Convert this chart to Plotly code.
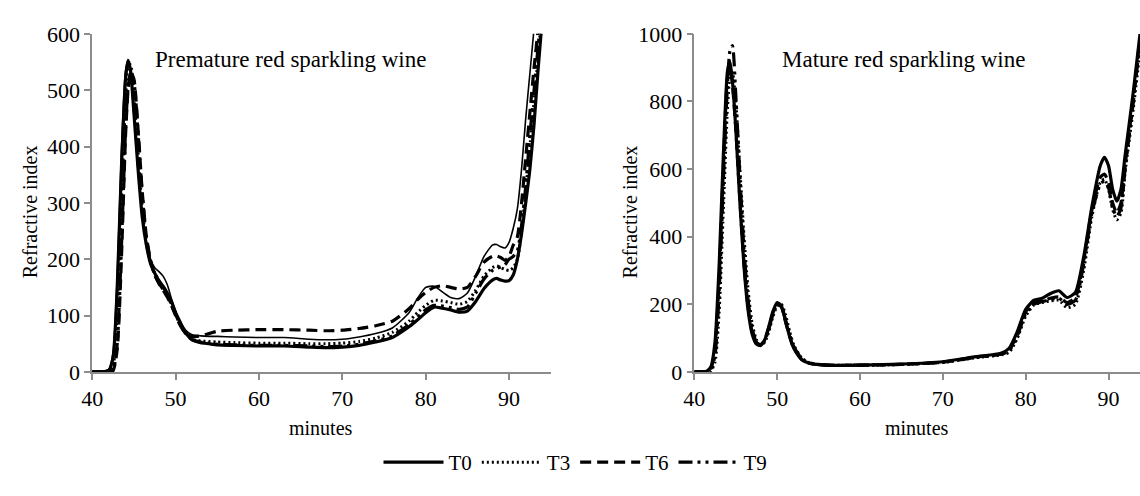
import plotly.graph_objects as go

# ---------------- data ----------------
series_names = ["T0", "T3", "T6", "T9"]

# Premature red sparkling wine (left panel)
t_left = [40, 41, 42, 42.5, 43, 43.5, 44, 44.3, 44.6, 45, 45.5, 46, 46.5, 47, 47.5, 48, 48.5,
          49, 49.5, 50, 50.5, 51, 51.5, 52, 53, 54, 55, 57, 60, 63, 66, 68, 70, 72, 74, 76,
          78, 79, 80, 81, 82, 83, 84, 85, 86, 87, 88, 88.5, 89, 89.5, 90, 90.5, 91, 91.5,
          92, 92.5, 93, 93.5, 94]
pre_T0 = [0, 0, 3, 25, 150, 360, 520, 553, 535, 460, 360, 275, 225, 192, 175, 162, 152,
          140, 125, 105, 90, 75, 64, 57, 52, 50, 48, 47, 46, 46, 44, 43, 44, 47, 53, 61,
          80, 92, 105, 115, 113, 110, 106, 108, 125, 148, 163, 166, 163, 161, 162, 172, 200, 245,
          300, 360, 440, 540, 630]
pre_T3 = [0, 0, 0, 10, 100, 300, 480, 540, 545, 490, 390, 290, 228, 195, 176, 162, 150,
          138, 122, 104, 88, 73, 64, 58, 55, 54, 53, 52, 51, 51, 50, 50, 51, 54, 60, 70,
          90, 105, 118, 127, 126, 123, 120, 125, 145, 170, 185, 188, 185, 182, 180, 185, 200, 250,
          320, 400, 480, 560, 650]
pre_T6 = [0, 0, 0, 2, 40, 200, 420, 500, 532, 520, 430, 320, 240, 198, 172, 157, 145,
          133, 118, 100, 84, 72, 66, 63, 64, 68, 72, 74, 75, 75, 74, 73, 74, 77, 82, 90,
          112, 128, 141, 150, 153, 150, 147, 150, 170, 195, 205, 206, 203, 198, 205, 225, 240, 300,
          380, 460, 540, 610, 690]
pre_T9 = [0, 0, 0, 3, 50, 220, 430, 505, 530, 515, 425, 315, 238, 196, 172, 158, 146,
          134, 120, 102, 86, 72, 63, 57, 53, 51, 49, 48, 47, 47, 46, 45, 46, 49, 55, 64,
          84, 97, 110, 118, 117, 114, 111, 115, 140, 165, 180, 184, 186, 190, 200, 205, 215, 260,
          330, 420, 500, 580, 660]
# thin solid trace visible in the reference (no legend entry)
pre_thin = [0, 0, 5, 35, 170, 390, 535, 553, 530, 455, 355, 280, 230, 200, 185, 178, 170,
            155, 130, 108, 90, 78, 70, 66, 64, 63, 63, 62, 61, 61, 58, 57, 58, 62, 68, 78,
            105, 130, 150, 152, 142, 132, 130, 140, 170, 205, 225, 226, 222, 220, 230, 255, 290, 360,
            450, 530, 610, 700, 800]

# Mature red sparkling wine (right panel)
t_right = [40, 41, 41.5, 42, 42.5, 43, 43.5, 44, 44.3, 44.6, 45, 45.5, 46, 46.5, 47, 47.5,
           48, 48.5, 49, 49.5, 50, 50.5, 51, 51.5, 52, 53, 54, 56, 60, 65, 70, 74, 77, 78,
           79, 80, 81, 82, 83, 84, 85, 86, 87, 88, 89, 89.5, 90, 90.5, 91, 91.5, 92, 93, 93.8]
mat_T0 = [0, 0, 2, 15, 90, 320, 640, 890, 918, 860, 720, 500, 310, 180, 110, 82,
          78, 95, 135, 180, 205, 195, 150, 105, 70, 35, 25, 20, 20, 23, 30, 45, 55, 70,
          120, 185, 212, 218, 232, 240, 220, 235, 340, 490, 610, 635, 610, 540, 505, 540, 640, 830, 1000]
mat_T3 = [0, 0, 0, 3, 30, 180, 480, 780, 870, 885, 800, 600, 400, 240, 140, 95,
          80, 88, 120, 165, 195, 200, 170, 120, 80, 40, 26, 20, 19, 22, 28, 42, 50, 58,
          100, 165, 198, 205, 210, 212, 190, 200, 300, 460, 560, 570, 540, 480, 450, 470, 590, 780, 950]
mat_T6 = [0, 0, 1, 10, 70, 280, 600, 870, 900, 850, 720, 510, 320, 190, 115, 85,
          80, 95, 132, 175, 200, 192, 150, 105, 70, 36, 25, 20, 20, 22, 29, 44, 53, 65,
          112, 178, 205, 210, 218, 222, 205, 220, 330, 480, 575, 585, 560, 500, 470, 500, 610, 810, 990]
mat_T9 = [0, 0, 0, 5, 50, 240, 560, 850, 950, 965, 820, 580, 360, 210, 125, 88,
          80, 92, 128, 172, 200, 195, 155, 110, 75, 38, 26, 20, 20, 22, 29, 43, 52, 62,
          108, 172, 200, 208, 214, 218, 200, 212, 320, 470, 555, 565, 545, 485, 460, 485, 600, 800, 980]

left_ticks = [0, 100, 200, 300, 400, 500, 600]
right_ticks = [0, 200, 400, 600, 800, 1000]
x_ticks = [40, 50, 60, 70, 80, 90]

# ---------------- styling ----------------
FONT = "Liberation Serif, Times New Roman, serif"
styles = {
    "T0": dict(color="black", width=3.2, dash="solid"),
    "T3": dict(color="black", width=3, dash="2px,3px"),
    "T6": dict(color="black", width=3.2, dash="11px,6px"),
    "T9": dict(color="black", width=3.2, dash="14px,5px,3px,5px,3px,5px"),
}

fig = go.Figure()

left_data = {"T0": pre_T0, "T3": pre_T3, "T6": pre_T6, "T9": pre_T9}
right_data = {"T0": mat_T0, "T3": mat_T3, "T6": mat_T6, "T9": mat_T9}

fig.add_trace(go.Scatter(x=t_left, y=pre_thin, mode="lines", showlegend=False,
                         line=dict(color="black", width=1.6, shape="spline", smoothing=0.6),
                         xaxis="x", yaxis="y", hoverinfo="skip"))
for name in series_names:
    fig.add_trace(go.Scatter(x=t_left, y=left_data[name], mode="lines", name=name,
                             line=dict(shape="spline", smoothing=0.6, **styles[name]),
                             xaxis="x", yaxis="y", legendgroup=name))
for name in series_names:
    fig.add_trace(go.Scatter(x=t_right, y=right_data[name], mode="lines", name=name,
                             showlegend=False,
                             line=dict(shape="spline", smoothing=0.6, **styles[name]),
                             xaxis="x2", yaxis="y2", legendgroup=name))

ydom = [1 - 379 / 496, 1 - 23 / 496]
axis_common = dict(showgrid=False, zeroline=False, showline=True, linecolor="#8c8c8c",
                   linewidth=1.5, ticks="outside", tickcolor="#8c8c8c", ticklen=6,
                   tickwidth=1.5, tickfont=dict(family=FONT, size=22, color="black"))

fig.update_layout(
    width=1140, height=496,
    margin=dict(l=0, r=0, t=0, b=0),
    paper_bgcolor="white", plot_bgcolor="white",
    font=dict(family=FONT, color="black"),
    xaxis=dict(domain=[82 / 1140, 545 / 1140], range=[40, 95], tickvals=x_ticks,
               anchor="y", **axis_common),
    yaxis=dict(domain=ydom, range=[0, 600], tickvals=left_ticks, anchor="x", **axis_common),
    xaxis2=dict(domain=[690 / 1140, 1.0], range=[40, 93.8], tickvals=x_ticks,
                anchor="y2", **axis_common),
    yaxis2=dict(domain=ydom, range=[0, 1000], tickvals=right_ticks, anchor="x2", **axis_common),
    legend=dict(orientation="h", x=0.5, xanchor="center", y=0.0, yanchor="bottom",
                font=dict(family=FONT, size=21, color="black"), itemwidth=60,
                bgcolor="rgba(0,0,0,0)"),
    showlegend=True,
)

ann_font = dict(family=FONT, size=23, color="black")
axt_font = dict(family=FONT, size=20, color="black")
fig.add_annotation(text="Premature red sparkling wine", xref="paper", yref="paper",
                   x=282 / 1140, y=1 - 50 / 496, showarrow=False, font=ann_font,
                   xanchor="center", yanchor="middle")
fig.add_annotation(text="Mature red sparkling wine", xref="paper", yref="paper",
                   x=901 / 1140, y=1 - 50 / 496, showarrow=False, font=ann_font,
                   xanchor="center", yanchor="middle")
fig.add_annotation(text="Refractive index", xref="paper", yref="paper",
                   x=20 / 1140, y=1 - 210 / 496, showarrow=False, font=axt_font,
                   textangle=-90, xanchor="center", yanchor="middle")
fig.add_annotation(text="Refractive index", xref="paper", yref="paper",
                   x=625 / 1140, y=1 - 210 / 496, showarrow=False, font=axt_font,
                   textangle=-90, xanchor="center", yanchor="middle")
fig.add_annotation(text="minutes", xref="paper", yref="paper",
                   x=313 / 1140, y=1 - 438 / 496, showarrow=False, font=axt_font,
                   xanchor="center", yanchor="middle")
fig.add_annotation(text="minutes", xref="paper", yref="paper",
                   x=915 / 1140, y=1 - 438 / 496, showarrow=False, font=axt_font,
                   xanchor="center", yanchor="middle")

fig.write_html("out.html")
